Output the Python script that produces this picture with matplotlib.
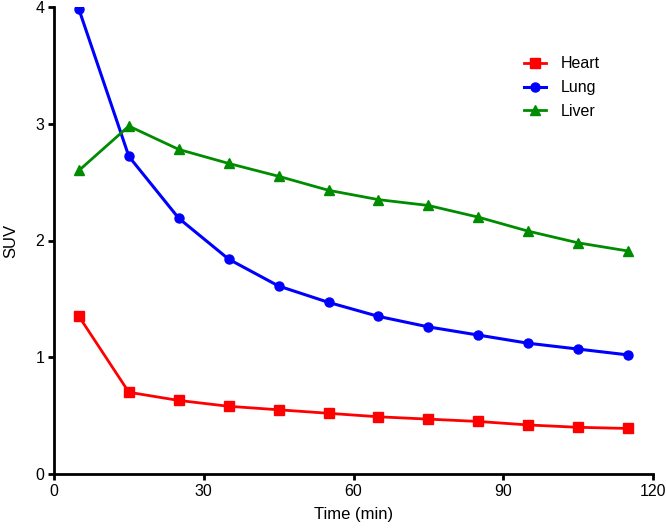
import matplotlib
matplotlib.use("Agg")
import matplotlib.pyplot as plt

plt.rcParams["font.family"] = ["Liberation Sans", "DejaVu Sans"]

# sampling times (min)
time = [5, 15, 25, 35, 45, 55, 65, 75, 85, 95, 105, 115]

heart = [1.35, 0.70, 0.63, 0.58, 0.55, 0.52, 0.49, 0.47, 0.45, 0.42, 0.40, 0.39]
lung = [3.98, 2.72, 2.19, 1.84, 1.61, 1.47, 1.35, 1.26, 1.19, 1.12, 1.07, 1.02]
liver = [2.60, 2.98, 2.78, 2.66, 2.55, 2.43, 2.35, 2.30, 2.20, 2.08, 1.98, 1.91]

x_ticks = [0, 30, 60, 90, 120]
y_ticks = [0, 1, 2, 3, 4]

fig = plt.figure(figsize=(6.66, 5.29), dpi=100)
ax = fig.add_axes([54 / 666, 1 - 474 / 529, 599 / 666, 467 / 529])

ax.plot(time, heart, color="#ff0000", marker="s", markersize=6.5, lw=2, label="Heart")
ax.plot(time, lung, color="#0000ff", marker="o", markersize=6.5, lw=2.2, label="Lung")
ax.plot(time, liver, color="#008c00", marker="^", markersize=6.5, lw=2, label="Liver")

ax.set_xlim(0, 120)
ax.set_ylim(0, 4)
ax.set_xticks(x_ticks)
ax.set_yticks(y_ticks)
ax.set_xlabel("Time (min)", fontsize=12, labelpad=6)
ax.set_ylabel("SUV", fontsize=12, labelpad=12)

for side in ("top", "right"):
    ax.spines[side].set_visible(False)
for side in ("left", "bottom"):
    ax.spines[side].set_linewidth(2)
ax.tick_params(width=2, length=4, labelsize=11.5, pad=3)

ax.legend(loc="upper right", bbox_to_anchor=(0.935, 0.925), frameon=False,
          fontsize=11.5, handlelength=1.4, handletextpad=0.9, labelspacing=0.55)

fig.savefig("out.png", dpi=100)
